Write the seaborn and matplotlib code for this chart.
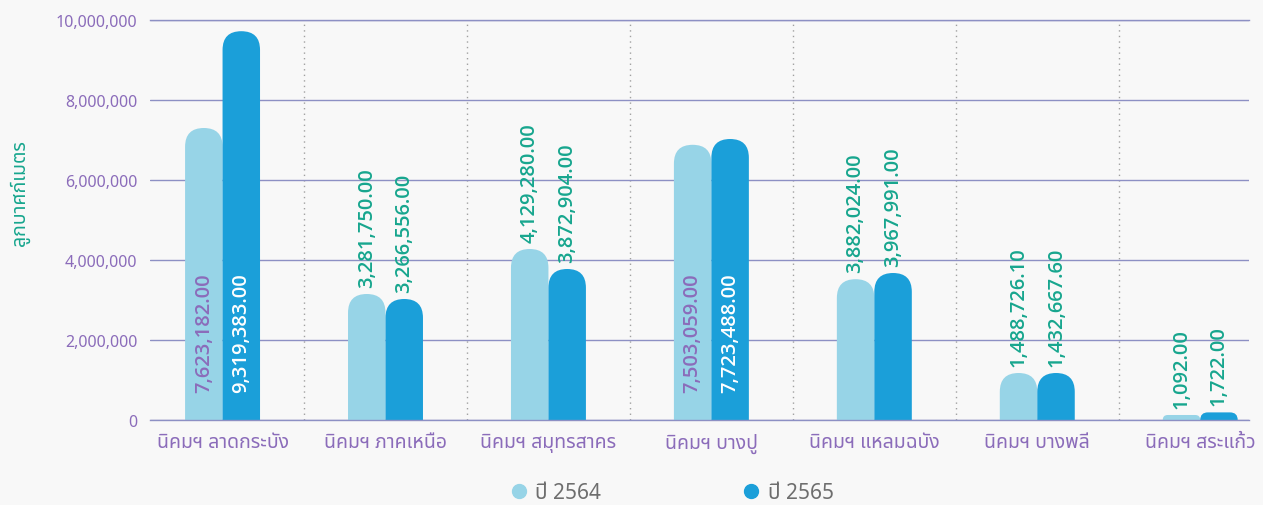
import pandas as pd
import matplotlib
matplotlib.use("Agg")
import matplotlib.pyplot as plt
from matplotlib import font_manager
from matplotlib.patches import FancyBboxPatch
from matplotlib.lines import Line2D
from matplotlib.ticker import FuncFormatter
import seaborn as sns

# --- data ---
categories = ["นิคมฯ ลาดกระบัง", "นิคมฯ ภาคเหนือ", "นิคมฯ สมุทรสาคร", "นิคมฯ บางปู",
              "นิคมฯ แหลมฉบัง", "นิคมฯ บางพลี", "นิคมฯ สระแก้ว"]
years = ["ปี 2564", "ปี 2565"]
# bar heights as drawn (m3)
bar_2564 = [7300000, 3150000, 4275000, 6880000, 3520000, 1175000, 125000]
bar_2565 = [9720000, 3025000, 3775000, 7025000, 3675000, 1175000, 190000]
# value labels shown on the bars
lab_2564 = [7623182.00, 3281750.00, 4129280.00, 7503059.00, 3882024.00, 1488726.10, 1092.00]
lab_2565 = [9319383.00, 3266556.00, 3872904.00, 7723488.00, 3967991.00, 1432667.60, 1722.00]

light = "#97d4e7"
dark = "#1b9fd9"
purple = "#8b6cba"
green = "#17a68e"
grid_col = "#8d90c4"
bg = "#f8f8f8"

df = pd.DataFrame({
    "cat": categories * 2,
    "year": [years[0]] * 7 + [years[1]] * 7,
    "bar": bar_2564 + bar_2565,
})

sns.set_style("white")
installed = {f.name for f in font_manager.fontManager.ttflist}
thai = next((f for f in ["Noto Sans Thai", "Noto Sans Thai UI", "IBM Plex Sans Thai",
                         "Kanit", "Prompt"] if f in installed), "DejaVu Sans")
plt.rcParams["font.family"] = [thai, "DejaVu Sans"]
num_font = ["Open Sans", "Noto Sans", "DejaVu Sans"]

fig, ax = plt.subplots(figsize=(12.63, 5.06), dpi=100)
fig.patch.set_facecolor(bg)
ax.set_facecolor(bg)
fig.subplots_adjust(left=0.1188, right=0.989, top=0.9585, bottom=0.168)

sns.barplot(data=df, x="cat", y="bar", hue="year", palette=[light, dark],
            width=0.46, gap=0, legend=False, ax=ax, saturation=1)

ax.set_xlim(-0.445, 6.30)
ax.set_ylim(0, 10000000)
ax.set_yticks(range(0, 10000001, 2000000))
ax.yaxis.set_major_formatter(FuncFormatter(lambda v, p: f"{int(v):,}"))
ax.grid(axis="y", color=grid_col, linewidth=1)
ax.grid(axis="x", visible=False)
ax.set_axisbelow(True)
for s in ["left", "right"]:
    ax.spines[s].set_visible(False)
for s in ["top", "bottom"]:
    ax.spines[s].set_color(grid_col)
    ax.spines[s].set_linewidth(1)
for i in range(len(categories) - 1):
    ax.axvline(i + 0.5, color="#a0a0a0", linestyle=(0, (1, 3)), linewidth=1, zorder=0)

ax.tick_params(axis="both", length=0)
ax.tick_params(axis="y", pad=9, labelsize=11.5, labelcolor=purple)
ax.tick_params(axis="x", pad=9, labelsize=14, labelcolor=purple)
ax.set_xlabel("")
ax.set_ylabel("ลูกบาศก์เมตร", color=green, fontsize=14, fontweight="semibold")
ax.yaxis.set_label_coords(-0.109, 0.57)

# rounded tops: swap seaborn's rectangles for rounded boxes
fig.canvas.draw()
bb = ax.get_window_extent()
asp = (10000000 / bb.height) / ((6.30 + 0.445) / bb.width)
labels_all = [lab_2564, lab_2565]
text_cols = [purple, "white"]
for j, cont in enumerate(ax.containers):
    for k, p in enumerate(cont.patches):
        x, w, h = p.get_x(), p.get_width(), p.get_height()
        fc = p.get_facecolor()
        p.remove()
        r = min(w / 2, h / asp)
        box = FancyBboxPatch((x, -r * asp), w, h + r * asp,
                             boxstyle=f"round,pad=0,rounding_size={r}",
                             mutation_aspect=asp, facecolor=fc, edgecolor="none",
                             zorder=2, clip_on=True)
        ax.add_patch(box)
        txt = f"{labels_all[j][k]:,.2f}"
        if h > 5000000:
            ax.annotate(txt, (x + w / 2, 0), xytext=(0, 28), textcoords="offset pixels",
                        rotation=90, ha="center", va="bottom", fontsize=14.5,
                        family=num_font, fontweight="semibold",
                        color=text_cols[j], zorder=3)
        else:
            ax.annotate(txt, (x + w / 2, h), xytext=(0, 7), textcoords="offset pixels",
                        rotation=90, ha="center", va="bottom", fontsize=14.5,
                        family=num_font, fontweight="semibold",
                        color=green, zorder=3)

handles = [Line2D([], [], marker="o", linestyle="none", markersize=10,
                  markerfacecolor=c, markeredgecolor=c) for c in [light, dark]]
fig.legend(handles, years, loc="center", bbox_to_anchor=(672 / 1263, 1 - 494 / 506),
           ncol=2, frameon=False, fontsize=15, labelcolor="#6e6e6e",
           handlelength=0.8, handletextpad=0.4, columnspacing=6.8)

fig.savefig("out.png", dpi=100, facecolor=bg)
